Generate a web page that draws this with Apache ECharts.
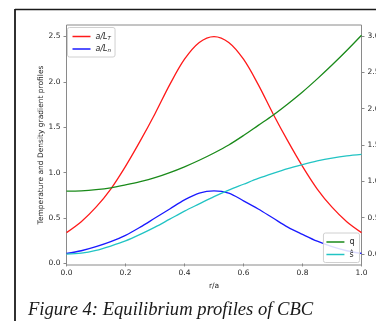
<!DOCTYPE html>
<html>
<head>
<meta charset="utf-8">
<script src="https://cdn.jsdelivr.net/npm/echarts@6/dist/echarts.min.js"></script>
<style>
html,body{margin:0;padding:0;background:#fff;}
#chart{width:376px;height:321px;}
</style>
</head>
<body>
<div id="chart"></div>
<script>
// ---- data ----
const rValues = [0.00,0.05,0.10,0.15,0.20,0.25,0.30,0.35,0.40,0.45,0.50,0.55,0.60,0.65,0.70,0.75,0.80,0.85,0.90,0.95,1.00];
const aLT  = [0.34,0.46,0.62,0.82,1.07,1.35,1.65,1.97,2.25,2.435,2.50,2.435,2.25,1.97,1.65,1.35,1.07,0.82,0.62,0.46,0.34];
const aLn  = [0.11,0.14,0.185,0.24,0.31,0.40,0.50,0.60,0.70,0.775,0.80,0.775,0.69,0.60,0.50,0.40,0.32,0.245,0.185,0.14,0.11];
const qVal = [0.865,0.87,0.885,0.91,0.95,0.995,1.05,1.12,1.20,1.29,1.39,1.50,1.63,1.77,1.91,2.065,2.23,2.41,2.60,2.80,3.01];
const sHat = [0.00,0.012,0.05,0.11,0.18,0.27,0.37,0.48,0.59,0.69,0.79,0.88,0.96,1.04,1.11,1.175,1.23,1.28,1.32,1.35,1.37];
const xTicks = [0.0,0.2,0.4,0.6,0.8,1.0];
const leftTicks = [0.0,0.5,1.0,1.5,2.0,2.5];
const rightTicks = [0.0,0.5,1.0,1.5,2.0,2.5,3.0];
const seriesNames = ['a/L_T','a/L_n','q','ŝ'];
const captionText = 'Figure 4: Equilibrium profiles of CBC';
const yAxisTitle = 'Temperature and Density gradient profiles';
const xAxisTitle = 'r/a';

const pairs = arr => rValues.map((r, i) => [r, arr[i]]);
const spine = '#8a8a8a';
const txt = '#262626';
const font = 'DejaVu Sans';

const chart = echarts.init(document.getElementById('chart'), null, {renderer: 'canvas'});

const legendText = {
  fontFamily: font, fontSize: 8, color: txt, lineHeight: 10,
  rich: {
    i: {fontFamily: font, fontSize: 8, fontStyle: 'italic', color: txt, lineHeight: 10},
    s: {fontFamily: font, fontSize: 5.5, fontStyle: 'italic', color: txt, lineHeight: 5.5, verticalAlign: 'bottom'}
  }
};
const legendFmt = name => {
  if (name === 'a/L_T') return '{i|a/L}{s|T}';
  if (name === 'a/L_n') return '{i|a/L}{s|n}';
  return name;
};

const lineSeries = (name, data, color, yIdx) => ({
  name, type: 'line', data: pairs(data), yAxisIndex: yIdx,
  showSymbol: false, smooth: 0.33, animation: false,
  lineStyle: {color, width: 1.3}, itemStyle: {color}
});

chart.setOption({
  animation: false,
  backgroundColor: '#fff',
  grid: {left: 66.5, right: 14.5, top: 25, bottom: 56, show: true, borderColor: spine, borderWidth: 1, backgroundColor: 'transparent', containLabel: false, outerBoundsMode: 'none'},
  xAxis: {
    type: 'value', min: 0, max: 1, interval: 0.2,
    name: xAxisTitle, nameLocation: 'middle', nameGap: 17,
    nameTextStyle: {fontFamily: font, fontSize: 7.5, color: txt},
    axisLine: {show: false},
    axisTick: {show: true, length: 3, lineStyle: {color: spine}, customValues: xTicks},
    axisLabel: {fontFamily: font, fontSize: 7.5, color: txt, margin: 4, customValues: xTicks, formatter: v => v.toFixed(1)},
    splitLine: {show: false}
  },
  yAxis: [{
    type: 'value', min: -0.017, max: 2.627, position: 'left',
    name: yAxisTitle, nameLocation: 'middle', nameGap: 21, nameRotate: 90, nameMoveOverlap: false,
    nameTextStyle: {fontFamily: font, fontSize: 7.5, color: txt},
    axisLine: {show: false},
    axisTick: {show: true, length: 3, lineStyle: {color: spine}, customValues: leftTicks},
    axisLabel: {fontFamily: font, fontSize: 7.5, color: txt, margin: 6, customValues: leftTicks, formatter: v => v.toFixed(1)},
    splitLine: {show: false}
  }, {
    type: 'value', min: -0.151, max: 3.151, position: 'right',
    axisLine: {show: false},
    axisTick: {show: true, length: 3, lineStyle: {color: spine}, customValues: rightTicks},
    axisLabel: {fontFamily: font, fontSize: 7.5, color: txt, margin: 6, customValues: rightTicks, formatter: v => v.toFixed(1)},
    splitLine: {show: false}
  }],
  legend: [{
    data: [seriesNames[0], seriesNames[1]], orient: 'vertical', left: 67.5, top: 27.5,
    icon: 'rect', itemWidth: 18, itemHeight: 1.5, itemGap: 2.5,
    padding: [4, 4, 3, 5], backgroundColor: 'rgba(255,255,255,0.85)', borderColor: '#d0d0d0', borderWidth: 1, borderRadius: 2,
    textStyle: legendText, formatter: legendFmt, selectedMode: false
  }, {
    data: [seriesNames[2], seriesNames[3]], orient: 'vertical', right: 16.5, top: 233,
    icon: 'rect', itemWidth: 18, itemHeight: 1.5, itemGap: 2.5,
    padding: [4, 5, 3, 3], backgroundColor: 'rgba(255,255,255,0.85)', borderColor: '#d0d0d0', borderWidth: 1, borderRadius: 2,
    textStyle: legendText, selectedMode: false
  }],
  series: [
    lineSeries(seriesNames[0], aLT, '#ff1a1a', 0),
    lineSeries(seriesNames[1], aLn, '#1a1aff', 0),
    lineSeries(seriesNames[2], qVal, '#1a8a1a', 1),
    lineSeries(seriesNames[3], sHat, '#22c4c4', 1)
  ],
  graphic: [
    {type: 'line', shape: {x1: 15, y1: 9.5, x2: 376, y2: 9.5}, style: {stroke: '#1a1a1a', lineWidth: 1.5}, silent: true},
    {type: 'line', shape: {x1: 15, y1: 9, x2: 15, y2: 321}, style: {stroke: '#1a1a1a', lineWidth: 1.8}, silent: true},
    {type: 'text', left: 28, top: 300.5, style: {text: captionText, font: 'italic 18.6px "Liberation Serif"', fill: '#1a1a1a'}, silent: true}
  ]
});
</script>
</body>
</html>
